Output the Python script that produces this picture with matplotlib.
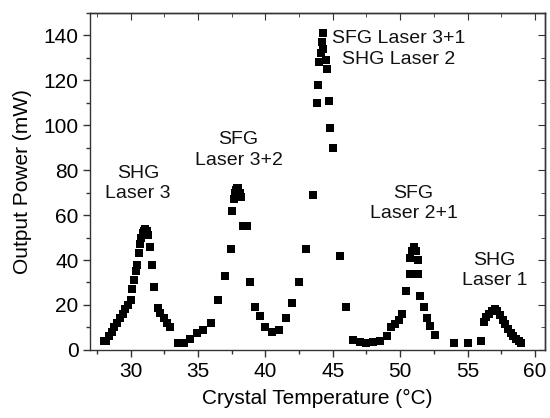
import numpy as np
import matplotlib.pyplot as plt
from matplotlib.ticker import MultipleLocator

plt.rcParams['font.family'] = ['Liberation Sans', 'DejaVu Sans']

# SHG laser 3 peak and the valley after it
temp_1 = [28.0, 28.2, 28.4, 28.6, 28.8, 29.0, 29.2, 29.4, 29.6, 29.8, 30.0,
          30.1, 30.25, 30.4, 30.5, 30.6, 30.7, 30.8, 30.9, 31.0, 31.1, 31.2,
          31.3, 31.45, 31.6, 31.75, 32.0, 32.2, 32.45, 32.7, 32.95,
          33.5, 33.95, 34.4, 34.9, 35.4, 36.0]
power_1 = [4, 4, 6, 8, 10, 12, 14, 16, 18, 20, 22,
           27, 31, 35, 38, 43, 47, 50, 52, 53, 54, 53,
           51, 46, 38, 28, 18.5, 16.5, 14, 12, 10,
           3, 3, 5, 7.5, 9, 12]

# SFG laser 3+2
temp_2 = [36.5, 37.0, 37.45, 37.55, 37.65, 37.75, 37.85, 37.9, 38.0, 38.1,
          38.2, 38.35, 38.6, 38.85, 39.25, 39.6, 40.0, 40.5, 41.0, 41.5,
          42.0, 42.5, 43.0]
power_2 = [22, 33, 45, 62, 67, 70, 71, 72, 72, 70,
           68, 55, 55, 30, 19, 15, 10, 8, 9, 14,
           21, 30, 45]

# SFG laser 3+1 / SHG laser 2
temp_3 = [43.5, 43.8, 43.9, 44.0, 44.1, 44.2, 44.3, 44.3, 44.5, 44.6,
          44.7, 44.8, 45.0, 45.5, 46.0]
power_3 = [69, 110, 118, 128, 132, 137, 134, 141, 129, 125,
           111, 99, 90, 42, 19]

# SFG laser 2+1
temp_4 = [46.5, 47.0, 47.5, 48.0, 48.5, 49.0, 49.3, 49.6, 49.9, 50.1,
          50.4, 50.7, 50.75, 50.85, 51.0, 51.2, 51.3, 51.35, 51.5, 51.8,
          52.0, 52.2, 52.6]
power_4 = [4.5, 3.5, 3, 3.5, 4, 6, 10, 11.5, 13.5, 16,
           26, 34, 41, 44, 46, 44, 40, 34, 24, 19,
           14, 10.5, 6.5]

# SHG laser 1
temp_5 = [54.0, 55.0, 56.0, 56.2, 56.4, 56.6, 56.8, 57.0, 57.2, 57.4,
          57.6, 57.8, 58.0, 58.2, 58.4, 58.6, 58.8, 59.0]
power_5 = [3, 3, 4, 12.5, 14.5, 16, 17.5, 18, 17.5, 15.5,
           13.5, 11.5, 9.5, 7.5, 6, 5, 4, 3]

temps = temp_1 + temp_2 + temp_3 + temp_4 + temp_5
powers = power_1 + power_2 + power_3 + power_4 + power_5

labels = ['SHG\nLaser 3', 'SFG\nLaser 3+2', 'SFG Laser 3+1\nSHG Laser 2',
          'SFG\nLaser 2+1', 'SHG\nLaser 1']
label_x = [30.55, 38.0, 49.9, 51.0, 57.0]
label_y = [74, 89, 134, 65, 35.5]

fig = plt.figure(figsize=(5.5, 4.18), dpi=100)
ax = fig.add_axes([0.164, 0.163, 0.827, 0.806])

ax.plot(temps, powers, 's', color='black', markersize=5.3, markeredgewidth=0)

for txt, x, y in zip(labels, label_x, label_y):
    ax.text(x, y, txt, ha='center', va='center', fontsize=14,
            linespacing=1.25, color='#111111')

ax.set_xlim(27.0, 60.75)
ax.set_ylim(0, 150)
ax.xaxis.set_major_locator(MultipleLocator(5))
ax.xaxis.set_minor_locator(MultipleLocator(2.5))
ax.yaxis.set_major_locator(MultipleLocator(20))
ax.yaxis.set_minor_locator(MultipleLocator(10))

ax.tick_params(which='both', direction='out', top=False, right=False,
               labelsize=15, color='#333333', width=1, pad=3.5)
ax.tick_params(which='major', length=5)
ax.tick_params(which='minor', length=3)

# inward ticks on the top and right edges
top = ax.secondary_xaxis('top')
top.xaxis.set_major_locator(MultipleLocator(5))
top.xaxis.set_minor_locator(MultipleLocator(2.5))
top.tick_params(which='both', direction='in', labeltop=False, color='#333333')
top.tick_params(which='major', length=5)
top.tick_params(which='minor', length=3)
right = ax.secondary_yaxis('right')
right.yaxis.set_major_locator(MultipleLocator(20))
right.yaxis.set_minor_locator(MultipleLocator(10))
right.tick_params(which='both', direction='in', labelright=False, color='#333333')
right.tick_params(which='major', length=5)
right.tick_params(which='minor', length=3)
for sp in list(ax.spines.values()) + [top.spines['top'], right.spines['right']]:
    sp.set_color('#333333')
    sp.set_linewidth(1)

ax.set_xlabel('Crystal Temperature (°C)', fontsize=15, labelpad=6)
ax.set_ylabel('Output Power (mW)', fontsize=15, labelpad=8)

fig.savefig('out.png', dpi=100)
